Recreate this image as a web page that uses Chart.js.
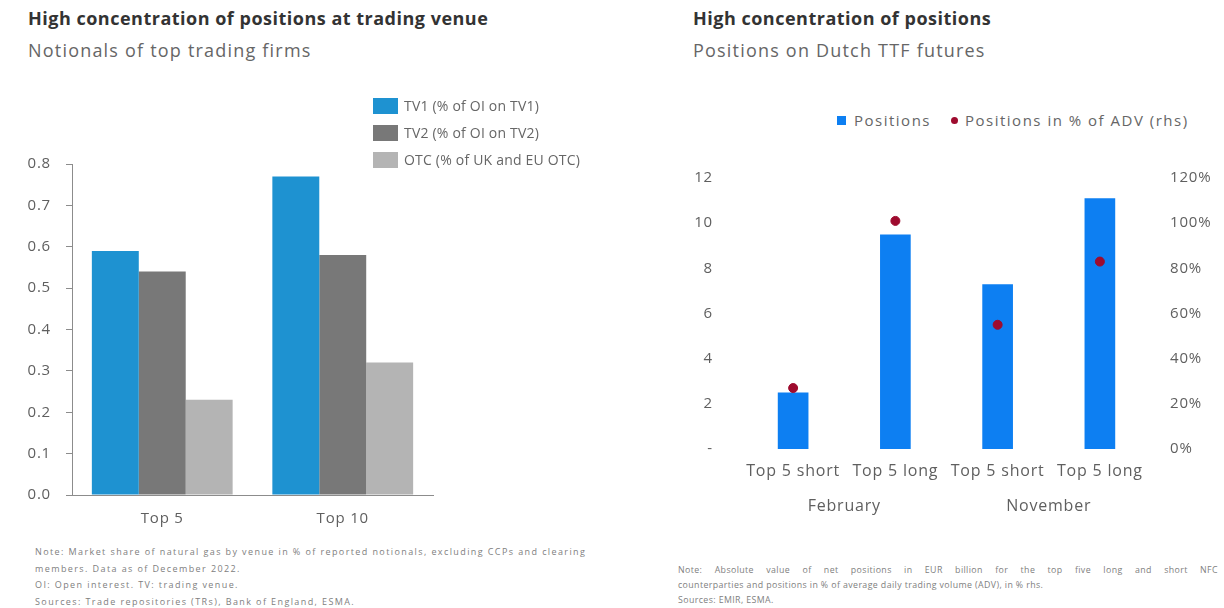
<!DOCTYPE html>
<html>
<head>
<meta charset="utf-8">
<script src="https://cdn.jsdelivr.net/npm/chart.js@4.4.0/dist/chart.umd.min.js"></script>
<style>
  body { margin: 0; width: 1224px; height: 608px; background: #fff; font-family: "Open Sans", Lato, sans-serif; position: relative; overflow: hidden; }
  .abs { position: absolute; }
  .title { font-weight: bold; font-size: 18px; color: #333; line-height: 22px; letter-spacing: 0.5px; white-space: nowrap; }
  .subtitle { font-size: 18px; color: #666; line-height: 22px; letter-spacing: 1.2px; white-space: nowrap; }
  .note { color: #808080; white-space: nowrap; }
  .leg-item { display: flex; align-items: center; font-size: 14px; color: #666; height: 27px; letter-spacing: 0.2px; }
  .leg-box { width: 25px; height: 16px; margin-right: 6px; }
</style>
</head>
<body>
<div class="abs title" style="left:28px;top:7px">High concentration of positions at trading venue</div>
<div class="abs subtitle" style="left:28px;top:39px">Notionals of top trading firms</div>
<div class="abs title" style="left:693px;top:7px">High concentration of positions</div>
<div class="abs subtitle" style="left:693px;top:39px">Positions on Dutch TTF futures</div>

<canvas id="venueChart" class="abs" width="445" height="400" style="left:0;top:140px"></canvas>
<canvas id="ttfChart" class="abs" width="544" height="400" style="left:680px;top:140px"></canvas>

<div id="venueLegend" class="abs" style="left:373px;top:92px"></div>
<div id="ttfLegend" class="abs" style="left:837px;top:110px;display:flex;align-items:center;font-size:15px;color:#666;letter-spacing:1.5px"></div>

<div class="abs note" style="left:35px;top:544px;font-size:9px;line-height:16.5px;letter-spacing:1.4px">
  Note: Market share of natural gas by venue in % of reported notionals, excluding CCPs and clearing<br>
  members. Data as of December 2022.<br>
  OI: Open interest. TV: trading venue.<br>
  Sources: Trade repositories (TRs), Bank of England, ESMA.
</div>
<div class="abs note" style="left:678px;top:563px;width:540px;font-size:8.8px;line-height:15px;letter-spacing:0.4px">
  <div style="text-align:justify;text-align-last:justify">Note: Absolute value of net positions in EUR billion for the top five long and short NFC</div>
  <div>counterparties and positions in % of average daily trading volume (ADV), in % rhs.</div>
  <div>Sources: EMIR, ESMA.</div>
</div>

<script>
const venueCategories = ['Top 5', 'Top 10'];
const tv1Values = [0.59, 0.77];
const tv2Values = [0.54, 0.58];
const otcValues = [0.23, 0.32];
const venueLabels = ['TV1 (% of OI on TV1)', 'TV2 (% of OI on TV2)', 'OTC (% of UK and EU OTC)'];
const venueColors = ['#1e92d1', '#787878', '#b4b4b4'];

const ttfCategories = ['Top 5 short', 'Top 5 long', 'Top 5 short', 'Top 5 long'];
const ttfMonths = ['February', 'November'];
const positionValues = [2.5, 9.5, 7.3, 11.1];
const adhShareValues = [27, 101, 55, 83];

Chart.defaults.font.family = '"Open Sans", Lato, sans-serif';
Chart.defaults.color = '#5f5f5f';
Chart.defaults.animation = false;

const axisGray = '#8c8c8c';

// canvas text is a bit wider in the original, so space the letters out
const letterSpacing = {
    id: 'letterSpacing',
    beforeDraw(chart) { chart.ctx.letterSpacing = '0.8px'; }
};

// left chart: grouped bars
const venueChart = new Chart(document.getElementById('venueChart'), {
    type: 'bar',
    data: {
        labels: venueCategories,
        datasets: [tv1Values, tv2Values, otcValues].map((vals, i) => ({
            label: venueLabels[i],
            data: vals,
            backgroundColor: venueColors[i],
            categoryPercentage: 0.78,
            barPercentage: 1.0
        }))
    },
    plugins: [letterSpacing],
    options: {
        responsive: false,
        layout: { padding: { top: 17, right: 12, bottom: 0, left: 0 } },
        plugins: { legend: { display: false }, tooltip: { enabled: false } },
        scales: {
            x: {
                grid: { display: false, drawTicks: false },
                border: { display: true, color: axisGray },
                ticks: { font: { size: 15 }, padding: 15 },
                afterFit: s => { s.height = 45; }
            },
            y: {
                min: 0, max: 0.8,
                grid: { display: true, drawOnChartArea: false, drawTicks: true, tickLength: 6, color: axisGray },
                border: { display: true, color: axisGray },
                ticks: { stepSize: 0.1, font: { size: 15 }, padding: 15, callback: v => v.toFixed(1) },
                afterFit: s => { s.width = 72; }
            }
        }
    }
});

// right chart: bars + dots on rhs axis
const ttfChart = new Chart(document.getElementById('ttfChart'), {
    data: {
        labels: ttfCategories,
        datasets: [
            {
                type: 'line',
                label: 'Positions in % of ADV (rhs)',
                data: adhShareValues,
                yAxisID: 'y1',
                showLine: false,
                pointRadius: 4.5,
                pointBackgroundColor: '#9e0b2e',
                pointBorderColor: '#9e0b2e',
                backgroundColor: '#9e0b2e'
            },
            {
                type: 'bar',
                label: 'Positions',
                data: positionValues,
                yAxisID: 'y',
                backgroundColor: '#0d7ff2',
                categoryPercentage: 0.3,
                barPercentage: 1.0
            }
        ]
    },
    plugins: [letterSpacing],
    options: {
        responsive: false,
        layout: { padding: { top: 17, right: 0, bottom: 11, left: 0 } },
        plugins: { legend: { display: false }, tooltip: { enabled: false } },
        scales: {
            x: {
                grid: { display: false, drawTicks: false },
                border: { display: false },
                ticks: { font: { size: 16 }, padding: 13, maxRotation: 0, autoSkip: false },
                afterFit: s => { s.height = 40; }
            },
            x2: {
                type: 'category',
                labels: ttfMonths,
                position: 'bottom',
                offset: true,
                grid: { display: false, drawTicks: false },
                border: { display: false },
                ticks: { font: { size: 16 }, padding: 8 },
                afterFit: s => { s.height = 40; }
            },
            y: {
                position: 'left',
                min: 0, max: 12,
                grid: { display: false, drawTicks: false },
                border: { display: false },
                ticks: { stepSize: 2, font: { size: 15 }, padding: 29, callback: v => v === 0 ? '-' : v },
                afterFit: s => { s.width = 62; }
            },
            y1: {
                position: 'right',
                min: 0, max: 120,
                grid: { display: false, drawTicks: false },
                border: { display: false },
                ticks: { stepSize: 20, font: { size: 15 }, padding: 19, callback: v => v + '%' },
                afterFit: s => { s.width = 73; }
            }
        }
    }
});

// html legends built from the datasets
const venueLegend = document.getElementById('venueLegend');
venueChart.data.datasets.forEach(ds => {
    venueLegend.innerHTML += `<div class="leg-item"><span class="leg-box" style="background:${ds.backgroundColor}"></span>${ds.label}</div>`;
});

const ttfLegend = document.getElementById('ttfLegend');
const barDs = ttfChart.data.datasets[1];
const dotDs = ttfChart.data.datasets[0];
ttfLegend.innerHTML =
    `<span style="width:9px;height:9px;background:${barDs.backgroundColor};margin-right:8px"></span>${barDs.label}` +
    `<span style="width:7px;height:7px;border-radius:50%;background:${dotDs.pointBackgroundColor};margin:0 7px 0 20px"></span>${dotDs.label}`;
</script>
</body>
</html>
